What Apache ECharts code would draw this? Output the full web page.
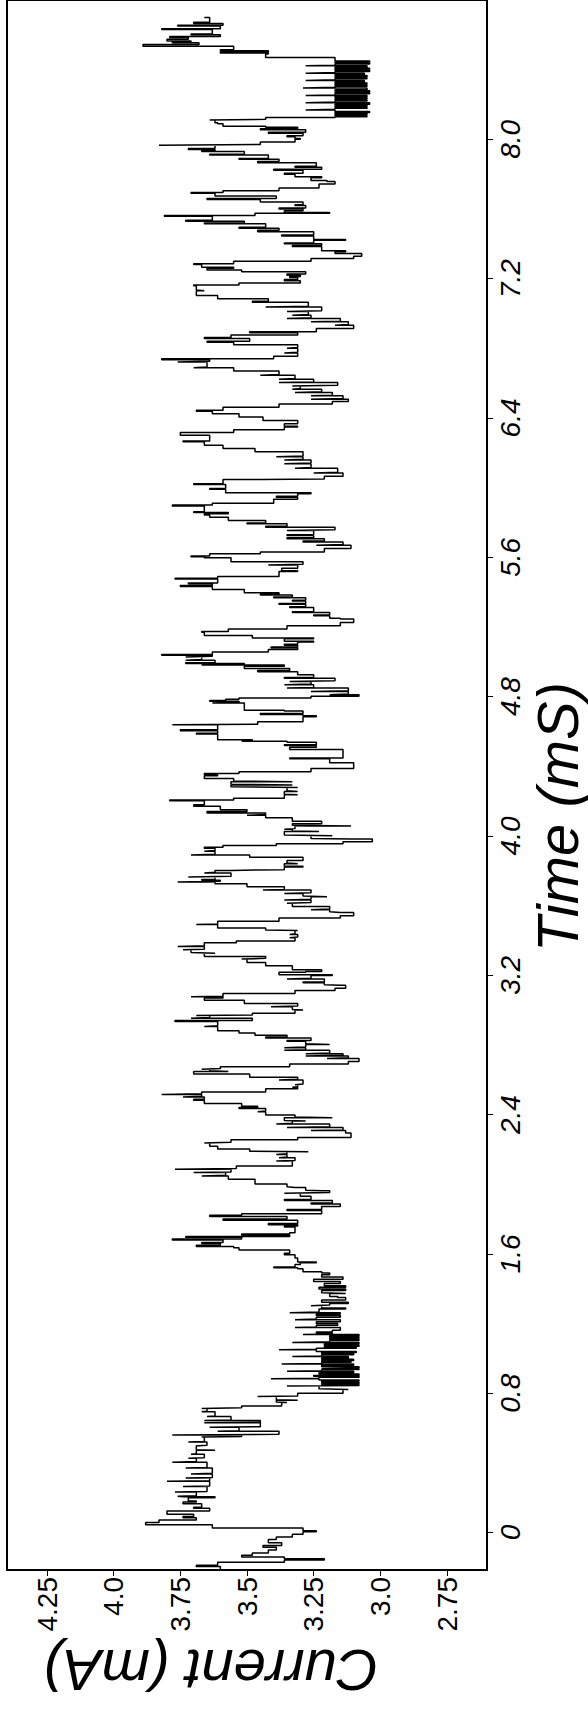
<!DOCTYPE html>
<html>
<head>
<meta charset="utf-8">
<title>Current vs Time</title>
<script src="https://cdn.jsdelivr.net/npm/echarts@6/dist/echarts.min.js"></script>
<style>
  html, body { margin: 0; padding: 0; background: #fff; }
  #chart { width: 588px; height: 1715px; }
</style>
</head>
<body>
<div id="chart"></div>
<script>
// step levels: [time (mS), current (mA)] -- the current jumps to this level at this time
const openingLevels = [
  [-0.215, 3.60], [-0.195, 3.69], [-0.188, 3.61], [-0.170, 3.36], [-0.158, 3.21], [-0.150, 3.36],
  [-0.140, 3.52], [-0.130, 3.48], [-0.118, 3.42], [-0.100, 3.39], [-0.085, 3.44], [-0.075, 3.37],
  [-0.058, 3.42], [-0.040, 3.39], [-0.025, 3.33], [-0.010, 3.29], [0.005, 3.24], [0.010, 3.29],
  [0.026, 3.63], [0.045, 3.88], [0.058, 3.83], [0.072, 3.69], [0.085, 3.74], [0.092, 3.70],
  [0.105, 3.80], [0.124, 3.64], [0.140, 3.70], [0.146, 3.67], [0.166, 3.74], [0.175, 3.69],
  [0.181, 3.72], [0.200, 3.62], [0.205, 3.74], [0.209, 3.76], [0.212, 3.69], [0.233, 3.77],
  [0.236, 3.65], [0.265, 3.74], [0.268, 3.64], [0.294, 3.80], [0.298, 3.64], [0.313, 3.73],
  [0.316, 3.63], [0.336, 3.71], [0.340, 3.63], [0.370, 3.73], [0.373, 3.65], [0.404, 3.78],
  [0.408, 3.69], [0.426, 3.72], [0.430, 3.66], [0.449, 3.71], [0.452, 3.69], [0.473, 3.62],
  [0.476, 3.69], [0.498, 3.68], [0.501, 3.65], [0.520, 3.72], [0.523, 3.66], [0.549, 3.67],
  [0.552, 3.52], [0.560, 3.78], [0.564, 3.38], [0.581, 3.61], [0.585, 3.53], [0.605, 3.64],
  [0.608, 3.45], [0.630, 3.66], [0.634, 3.45], [0.643, 3.66], [0.646, 3.56], [0.667, 3.65],
  [0.670, 3.62], [0.694, 3.67], [0.697, 3.65], [0.713, 3.67], [0.716, 3.52], [0.727, 3.37],
  [0.747, 3.35], [0.750, 3.39], [0.760, 3.31], [0.763, 3.39], [0.781, 3.46], [0.784, 3.31],
  [0.800, 3.14], [0.822, 3.12], [0.826, 3.23]
];

const lowFlickerLevels = [
  [0.841, 3.35], [0.844, 3.08], [0.850, 3.22], [0.856, 3.08], [0.862, 3.22], [0.869, 3.08],
  [0.876, 3.23], [0.883, 3.41], [0.886, 3.23], [0.892, 3.08], [0.897, 3.25], [0.902, 3.08],
  [0.910, 3.23], [0.918, 3.10], [0.926, 3.35], [0.929, 3.22], [0.936, 3.08], [0.941, 3.22],
  [0.945, 3.08], [0.952, 3.22], [0.960, 3.10], [0.968, 3.37], [0.971, 3.22], [0.978, 3.11],
  [0.983, 3.22], [0.988, 3.10], [0.995, 3.22], [1.003, 3.12], [1.011, 3.33], [1.014, 3.22],
  [1.021, 3.10], [1.027, 3.22], [1.034, 3.09], [1.040, 3.24], [1.049, 3.38], [1.052, 3.24],
  [1.058, 3.09], [1.064, 3.21], [1.070, 3.08], [1.077, 3.21], [1.084, 3.08], [1.092, 3.33],
  [1.095, 3.19], [1.103, 3.08], [1.110, 3.19], [1.117, 3.08], [1.124, 3.19], [1.130, 3.08],
  [1.137, 3.29], [1.140, 3.18], [1.147, 3.24], [1.152, 3.18], [1.162, 3.15], [1.177, 3.32],
  [1.180, 3.24], [1.190, 3.16], [1.200, 3.24], [1.210, 3.15], [1.222, 3.32], [1.226, 3.24],
  [1.236, 3.15], [1.247, 3.24], [1.255, 3.15], [1.262, 3.34], [1.266, 3.23], [1.284, 3.13],
  [1.290, 3.22], [1.303, 3.26], [1.306, 3.19], [1.315, 3.12], [1.322, 3.22], [1.335, 3.13],
  [1.350, 3.16], [1.355, 3.19], [1.373, 3.13], [1.377, 3.22], [1.390, 3.13], [1.398, 3.23],
  [1.408, 3.13], [1.417, 3.21], [1.430, 3.15], [1.441, 3.25], [1.455, 3.14], [1.467, 3.22],
  [1.480, 3.19], [1.490, 3.22], [1.497, 3.29], [1.515, 3.31], [1.520, 3.40], [1.525, 3.32],
  [1.539, 3.30], [1.549, 3.24], [1.554, 3.31], [1.576, 3.32], [1.595, 3.36]
];

const earlyTeethLevels = [
  [1.604, 3.34], [1.623, 3.53], [1.635, 3.55], [1.642, 3.69], [1.650, 3.60], [1.660, 3.67],
  [1.666, 3.59], [1.680, 3.78], [1.686, 3.52], [1.695, 3.73], [1.700, 3.34], [1.708, 3.52],
  [1.714, 3.34], [1.721, 3.32], [1.755, 3.36], [1.760, 3.31], [1.768, 3.42], [1.775, 3.31],
  [1.793, 3.59], [1.800, 3.35], [1.815, 3.64], [1.822, 3.52], [1.830, 3.22], [1.849, 3.35],
  [1.855, 3.22], [1.872, 3.15], [1.887, 3.26], [1.892, 3.18], [1.906, 3.36], [1.912, 3.26],
  [1.931, 3.30], [1.948, 3.36], [1.952, 3.19], [1.963, 3.22], [1.966, 3.28], [1.982, 3.32],
  [1.986, 3.35], [2.001, 3.47], [2.029, 3.57], [2.048, 3.67], [2.052, 3.58], [2.067, 3.70],
  [2.070, 3.56], [2.086, 3.77], [2.090, 3.54], [2.105, 3.33], [2.133, 3.39], [2.137, 3.32],
  [2.152, 3.38], [2.156, 3.35], [2.171, 3.39], [2.175, 3.35], [2.186, 3.27], [2.190, 3.49],
  [2.203, 3.61], [2.218, 3.64], [2.237, 3.66], [2.241, 3.56], [2.256, 3.31], [2.269, 3.11],
  [2.294, 3.13], [2.309, 3.26], [2.312, 3.14], [2.326, 3.35], [2.330, 3.19], [2.346, 3.39],
  [2.350, 3.33], [2.363, 3.28], [2.366, 3.36], [2.382, 3.18], [2.386, 3.32], [2.397, 3.43],
  [2.416, 3.46], [2.420, 3.43], [2.435, 3.53], [2.440, 3.46], [2.448, 3.52], [2.463, 3.66],
  [2.482, 3.70], [2.488, 3.66], [2.501, 3.74], [2.505, 3.67], [2.516, 3.82], [2.520, 3.67],
  [2.529, 3.43], [2.548, 3.31], [2.557, 3.33], [2.560, 3.31], [2.572, 3.32], [2.575, 3.29],
  [2.599, 3.38], [2.603, 3.31], [2.614, 3.49], [2.633, 3.70], [2.648, 3.57], [2.652, 3.64],
  [2.661, 3.67], [2.665, 3.60], [2.675, 3.34], [2.690, 3.12], [2.705, 3.08], [2.722, 3.20],
  [2.726, 3.12], [2.737, 3.28], [2.741, 3.14], [2.750, 3.28], [2.754, 3.19], [2.769, 3.36],
  [2.773, 3.28], [2.784, 3.36], [2.788, 3.28], [2.803, 3.19], [2.807, 3.28], [2.821, 3.35],
  [2.826, 3.26], [2.840, 3.43], [2.845, 3.35], [2.855, 3.47], [2.869, 3.53], [2.882, 3.61],
  [2.906, 3.66], [2.910, 3.61], [2.935, 3.77], [2.940, 3.48], [2.953, 3.71], [2.957, 3.64],
  [2.969, 3.69], [2.972, 3.48], [2.982, 3.32], [3.000, 3.29], [3.004, 3.33], [3.019, 3.41],
  [3.023, 3.31], [3.038, 3.51], [3.057, 3.66], [3.070, 3.59], [3.076, 3.71], [3.080, 3.59],
  [3.095, 3.32], [3.113, 3.17], [3.126, 3.13], [3.142, 3.15], [3.146, 3.21], [3.157, 3.29],
  [3.162, 3.21], [3.179, 3.35], [3.183, 3.26], [3.198, 3.18], [3.203, 3.38], [3.217, 3.28],
  [3.222, 3.22], [3.232, 3.33], [3.255, 3.43], [3.274, 3.50], [3.293, 3.52], [3.297, 3.43],
  [3.308, 3.66], [3.327, 3.62], [3.331, 3.71], [3.346, 3.74], [3.350, 3.66], [3.365, 3.76],
  [3.369, 3.66], [3.387, 3.54], [3.397, 3.32], [3.416, 3.34], [3.420, 3.31], [3.434, 3.34],
  [3.438, 3.32], [3.457, 3.31], [3.460, 3.43], [3.472, 3.61], [3.491, 3.69], [3.495, 3.61],
  [3.510, 3.38], [3.529, 3.15], [3.542, 3.10], [3.561, 3.15], [3.565, 3.19], [3.576, 3.26],
  [3.580, 3.19], [3.595, 3.33], [3.614, 3.35], [3.618, 3.26], [3.632, 3.36], [3.636, 3.26],
  [3.651, 3.20], [3.655, 3.29], [3.670, 3.36], [3.674, 3.26], [3.689, 3.44], [3.693, 3.36],
  [3.708, 3.50], [3.726, 3.62], [3.736, 3.76], [3.740, 3.60], [3.745, 3.67], [3.750, 3.62],
  [3.764, 3.72], [3.768, 3.56], [3.787, 3.66], [3.791, 3.62], [3.802, 3.56], [3.806, 3.36],
  [3.821, 3.29], [3.826, 3.36], [3.840, 3.31], [3.844, 3.35], [3.859, 3.29], [3.878, 3.49],
  [3.891, 3.71], [3.895, 3.62], [3.912, 3.66], [3.916, 3.62], [3.930, 3.66], [3.935, 3.59],
  [3.945, 3.39], [3.955, 3.14], [3.967, 3.03], [3.982, 3.11], [3.986, 3.26], [4.001, 3.18],
  [4.005, 3.36], [4.025, 3.23], [4.029, 3.33], [4.038, 3.36], [4.042, 3.32], [4.057, 3.11],
  [4.061, 3.33], [4.070, 3.22], [4.085, 3.33], [4.104, 3.43], [4.119, 3.50], [4.123, 3.43],
  [4.132, 3.65], [4.140, 3.50], [4.150, 3.60], [4.170, 3.70], [4.179, 3.66], [4.202, 3.79],
  [4.207, 3.55], [4.217, 3.36], [4.236, 3.31], [4.240, 3.36], [4.255, 3.31], [4.259, 3.35],
  [4.278, 3.31], [4.282, 3.56], [4.293, 3.33], [4.297, 3.56], [4.311, 3.33], [4.315, 3.55],
  [4.330, 3.66], [4.345, 3.61], [4.350, 3.66], [4.358, 3.53], [4.368, 3.26], [4.387, 3.10]
];

const lateTeethLevels = [
  [4.420, 3.19], [4.443, 3.34], [4.448, 3.14], [4.496, 3.34], [4.509, 3.24], [4.519, 3.36],
  [4.524, 3.24], [4.538, 3.35], [4.543, 3.52], [4.547, 3.48], [4.552, 3.61], [4.585, 3.69],
  [4.590, 3.61], [4.604, 3.75], [4.610, 3.61], [4.638, 3.78], [4.642, 3.46], [4.655, 3.29],
  [4.685, 3.24], [4.690, 3.29], [4.698, 3.45], [4.703, 3.29], [4.717, 3.36], [4.722, 3.51],
  [4.764, 3.63], [4.768, 3.53], [4.773, 3.64], [4.778, 3.58], [4.785, 3.53], [4.792, 3.26],
  [4.802, 3.08], [4.811, 3.19], [4.815, 3.12], [4.830, 3.26], [4.834, 3.12], [4.849, 3.35],
  [4.853, 3.25], [4.868, 3.36], [4.872, 3.26], [4.887, 3.34], [4.891, 3.17], [4.905, 3.36],
  [4.910, 3.25], [4.925, 3.31], [4.943, 3.46], [4.950, 3.34], [4.962, 3.51], [4.975, 3.36],
  [4.981, 3.67], [4.985, 3.51], [4.990, 3.73], [4.995, 3.62], [5.009, 3.73], [5.013, 3.67],
  [5.028, 3.73], [5.032, 3.63], [5.037, 3.82], [5.042, 3.63], [5.056, 3.42], [5.070, 3.31],
  [5.080, 3.41], [5.085, 3.31], [5.095, 3.36], [5.100, 3.31], [5.113, 3.25], [5.118, 3.36],
  [5.132, 3.25], [5.137, 3.48], [5.151, 3.66], [5.169, 3.67], [5.174, 3.57], [5.188, 3.35],
  [5.207, 3.15], [5.226, 3.10], [5.245, 3.15], [5.250, 3.19], [5.264, 3.25], [5.269, 3.19],
  [5.283, 3.33], [5.288, 3.25], [5.311, 3.34], [5.316, 3.28], [5.330, 3.38], [5.335, 3.28],
  [5.349, 3.33], [5.354, 3.28], [5.367, 3.40], [5.372, 3.33], [5.383, 3.45], [5.388, 3.38],
  [5.396, 3.51], [5.415, 3.63], [5.433, 3.75], [5.438, 3.63], [5.448, 3.72], [5.453, 3.61],
  [5.475, 3.77], [5.480, 3.61], [5.490, 3.38], [5.518, 3.31], [5.523, 3.37], [5.537, 3.31],
  [5.556, 3.42], [5.560, 3.29], [5.575, 3.56], [5.597, 3.66], [5.603, 3.71], [5.608, 3.64],
  [5.620, 3.45], [5.631, 3.21], [5.650, 3.11], [5.669, 3.24], [5.673, 3.14], [5.688, 3.29],
  [5.693, 3.21], [5.707, 3.35], [5.712, 3.25], [5.725, 3.35], [5.730, 3.25], [5.754, 3.35],
  [5.758, 3.17], [5.773, 3.43], [5.778, 3.35], [5.792, 3.50], [5.797, 3.43], [5.811, 3.57],
  [5.830, 3.64], [5.843, 3.66], [5.850, 3.57], [5.857, 3.70], [5.862, 3.66], [5.895, 3.78],
  [5.900, 3.63], [5.910, 3.40], [5.933, 3.31], [5.945, 3.39], [5.950, 3.31], [5.965, 3.26],
  [5.971, 3.58], [5.990, 3.64], [5.995, 3.58], [6.018, 3.70], [6.023, 3.59], [6.046, 3.45],
  [6.050, 3.21], [6.065, 3.14], [6.084, 3.25], [6.088, 3.16], [6.112, 3.32], [6.116, 3.26],
  [6.137, 3.36], [6.141, 3.26], [6.159, 3.36], [6.163, 3.29], [6.178, 3.39], [6.182, 3.29],
  [6.206, 3.47], [6.225, 3.59], [6.244, 3.66], [6.263, 3.74], [6.268, 3.64], [6.301, 3.75],
  [6.316, 3.55], [6.333, 3.36], [6.348, 3.31], [6.353, 3.36], [6.367, 3.31], [6.386, 3.44],
  [6.405, 3.53], [6.424, 3.63], [6.439, 3.69], [6.444, 3.59], [6.461, 3.38], [6.480, 3.18],
  [6.495, 3.12], [6.508, 3.26], [6.512, 3.14], [6.527, 3.26], [6.531, 3.18], [6.546, 3.32],
  [6.550, 3.22], [6.565, 3.33], [6.569, 3.30], [6.584, 3.33], [6.588, 3.16], [6.603, 3.38],
  [6.607, 3.25], [6.622, 3.38], [6.626, 3.32], [6.646, 3.45], [6.650, 3.38], [6.669, 3.55],
  [6.688, 3.70], [6.692, 3.65], [6.722, 3.76], [6.726, 3.64], [6.735, 3.82], [6.740, 3.40],
  [6.754, 3.31], [6.773, 3.36], [6.777, 3.31], [6.801, 3.35], [6.805, 3.31], [6.820, 3.55],
  [6.835, 3.65], [6.840, 3.49], [6.857, 3.66], [6.862, 3.56], [6.876, 3.31], [6.890, 3.49],
  [6.895, 3.24], [6.914, 3.10], [6.933, 3.17], [6.937, 3.12], [6.952, 3.26], [6.956, 3.15],
  [6.971, 3.35], [6.975, 3.26], [6.990, 3.33], [6.994, 3.27], [7.012, 3.35], [7.016, 3.22],
  [7.037, 3.43], [7.041, 3.27], [7.065, 3.48], [7.070, 3.42], [7.084, 3.61], [7.103, 3.69],
  [7.131, 3.66], [7.135, 3.69], [7.159, 3.70], [7.164, 3.53], [7.175, 3.30], [7.188, 3.36],
  [7.195, 3.31], [7.207, 3.34], [7.212, 3.30], [7.220, 3.35], [7.226, 3.28], [7.240, 3.52],
  [7.250, 3.65], [7.260, 3.55], [7.265, 3.67], [7.281, 3.70], [7.286, 3.55], [7.300, 3.26],
  [7.315, 3.10], [7.329, 3.07], [7.345, 3.17], [7.355, 3.13], [7.360, 3.22], [7.385, 3.33],
  [7.390, 3.22], [7.400, 3.36], [7.405, 3.25], [7.420, 3.13], [7.425, 3.25], [7.445, 3.37],
  [7.450, 3.25], [7.470, 3.46], [7.478, 3.38], [7.490, 3.53], [7.495, 3.43], [7.515, 3.66],
  [7.520, 3.51], [7.530, 3.73], [7.535, 3.63], [7.558, 3.81], [7.563, 3.47], [7.575, 3.19],
  [7.580, 3.36], [7.590, 3.29], [7.600, 3.38], [7.605, 3.28], [7.620, 3.32], [7.625, 3.29],
  [7.640, 3.45], [7.655, 3.65], [7.660, 3.39], [7.675, 3.62], [7.690, 3.71], [7.695, 3.59],
  [7.705, 3.38], [7.720, 3.23], [7.743, 3.17], [7.758, 3.20], [7.763, 3.26], [7.780, 3.22],
  [7.785, 3.32], [7.800, 3.36], [7.805, 3.29], [7.823, 3.40], [7.828, 3.22], [7.840, 3.32],
  [7.845, 3.24], [7.866, 3.46], [7.872, 3.38], [7.885, 3.53], [7.890, 3.42], [7.910, 3.64],
  [7.915, 3.51], [7.930, 3.67], [7.935, 3.62], [7.942, 3.72], [7.948, 3.62], [7.966, 3.83],
  [7.970, 3.45], [7.985, 3.32], [8.000, 3.30], [8.005, 3.32], [8.015, 3.35], [8.020, 3.29],
  [8.035, 3.42], [8.040, 3.28], [8.055, 3.45], [8.060, 3.31], [8.070, 3.43], [8.075, 3.59],
  [8.090, 3.61], [8.095, 3.62], [8.111, 3.64], [8.115, 3.43], [8.125, 3.17]
];

const highFlickerLevels = [
  [8.130, 3.05], [8.136, 3.17], [8.142, 3.05], [8.148, 3.17], [8.154, 3.04], [8.160, 3.17],
  [8.168, 3.28], [8.172, 3.17], [8.178, 3.05], [8.184, 3.17], [8.190, 3.05], [8.196, 3.17],
  [8.202, 3.04], [8.210, 3.28], [8.214, 3.17], [8.220, 3.05], [8.226, 3.17], [8.232, 3.05],
  [8.238, 3.17], [8.244, 3.05], [8.251, 3.28], [8.255, 3.17], [8.261, 3.04], [8.267, 3.17],
  [8.273, 3.04], [8.279, 3.17], [8.285, 3.05], [8.295, 3.29], [8.299, 3.17], [8.305, 3.05],
  [8.311, 3.17], [8.317, 3.05], [8.323, 3.17], [8.329, 3.06], [8.338, 3.28], [8.342, 3.17],
  [8.348, 3.05], [8.354, 3.17], [8.360, 3.05], [8.366, 3.17], [8.372, 3.06], [8.380, 3.28],
  [8.384, 3.17], [8.390, 3.04], [8.396, 3.17], [8.402, 3.04], [8.408, 3.17], [8.414, 3.05],
  [8.422, 3.28], [8.426, 3.17], [8.432, 3.04], [8.438, 3.17], [8.444, 3.04], [8.450, 3.17]
];

const closingLevels = [
  [8.470, 3.43], [8.490, 3.42], [8.496, 3.60], [8.502, 3.42], [8.508, 3.60], [8.515, 3.55],
  [8.535, 3.89], [8.545, 3.68], [8.555, 3.78], [8.560, 3.71], [8.565, 3.80], [8.575, 3.72],
  [8.585, 3.79], [8.590, 3.60], [8.600, 3.71], [8.605, 3.63], [8.630, 3.82], [8.635, 3.60],
  [8.650, 3.76], [8.655, 3.59], [8.665, 3.70], [8.672, 3.64], [8.700, 3.66]
];

const timeTicks = [0, 0.8, 1.6, 2.4, 3.2, 4.0, 4.8, 5.6, 6.4, 7.2, 8.0];
const timeTickLabels = ['0', '0.8', '1.6', '2.4', '3.2', '4.0', '4.8', '5.6', '6.4', '7.2', '8.0'];
const currentTicks = [4.25, 4.0, 3.75, 3.5, 3.25, 3.0, 2.75];
const currentTickLabels = ['4.25', '4.0', '3.75', '3.5', '3.25', '3.0', '2.75'];

const levels = [].concat(openingLevels, lowFlickerLevels, earlyTeethLevels,
  lateTeethLevels, highFlickerLevels, closingLevels);

// turn the levels into a staircase: [current, time] points
const stepPoints = [];
levels.forEach((lv, i) => {
  if (i > 0) {
    stepPoints.push([levels[i - 1][1], lv[0]]);
  }
  stepPoints.push([lv[1], lv[0]]);
});

function tickLabel(values, labels) {
  return (v) => {
    const i = values.findIndex((t) => Math.abs(t - v) < 1e-6);
    return i >= 0 ? labels[i] : '';
  };
}

const FONT = 'Liberation Sans, Arial, sans-serif';

const chart = echarts.init(document.getElementById('chart'), null, { renderer: 'svg' });
chart.setOption({
  animation: false,
  backgroundColor: '#ffffff',
  grid: {
    left: 7,
    right: 101,
    top: -23,
    bottom: 145,
    show: true,
    borderColor: '#000',
    borderWidth: 2
  },
  xAxis: {
    type: 'value',
    min: 2.6,
    max: 4.4,
    inverse: true,
    position: 'bottom',
    axisLine: { show: false, onZero: false },
    axisTick: {
      show: true,
      length: 6,
      customValues: currentTicks,
      lineStyle: { color: '#000', width: 1 }
    },
    axisLabel: {
      rotate: 90,
      margin: 7,
      fontSize: 28,
      fontFamily: FONT,
      color: '#000',
      customValues: currentTicks,
      formatter: tickLabel(currentTicks, currentTickLabels)
    },
    splitLine: { show: false }
  },
  yAxis: {
    type: 'value',
    min: -0.215,
    max: 8.8,
    position: 'right',
    axisLine: { show: false, onZero: false },
    axisTick: {
      show: true,
      length: 6,
      customValues: timeTicks,
      lineStyle: { color: '#000', width: 1 }
    },
    axisLabel: {
      rotate: 90,
      margin: 9,
      fontSize: 28,
      fontStyle: 'italic',
      fontFamily: FONT,
      color: '#000',
      customValues: timeTicks,
      formatter: tickLabel(timeTicks, timeTickLabels)
    },
    splitLine: { show: false }
  },
  graphic: [
    {
      type: 'text',
      x: 557,
      y: 817,
      rotation: Math.PI / 2,
      style: {
        text: 'Time (mS)',
        fontSize: 58,
        fontStyle: 'italic',
        fontFamily: FONT,
        fill: '#000',
        align: 'center',
        verticalAlign: 'middle'
      }
    },
    {
      type: 'text',
      x: 211,
      y: 1670,
      rotation: Math.PI,
      style: {
        text: 'Current (mA)',
        fontSize: 58,
        fontStyle: 'italic',
        fontFamily: FONT,
        fill: '#000',
        align: 'center',
        verticalAlign: 'middle'
      }
    }
  ],
  series: [
    {
      type: 'line',
      data: stepPoints,
      showSymbol: false,
      clip: true,
      lineStyle: { color: '#000', width: 1.5 }
    }
  ]
});
</script>
</body>
</html>
